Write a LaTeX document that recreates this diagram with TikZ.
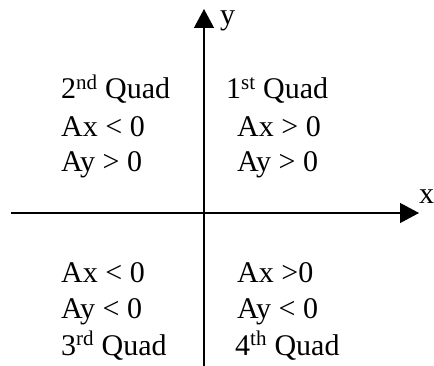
\documentclass[tikz,border=0pt]{standalone}
\usepackage{fontspec}
\setmainfont{Liberation Serif}
\usepackage{tikz}
\usetikzlibrary{arrows.meta}

\begin{document}
\begin{tikzpicture}[x=1pt, y=-1pt,
    axis/.style={line width=1.3pt, -{Triangle[length=19pt,width=20pt]}},
    quad/.style={anchor=base west, inner sep=0pt, font=\fontsize{30}{34}\selectfont},
  ]
  \useasboundingbox (0,0) rectangle (434,366);
  % axes
  \coordinate (xleft) at (11,213);
  \coordinate (xright) at (419,213);
  \coordinate (ybottom) at (204,366);
  \coordinate (ytop) at (204,9);
  \draw[axis] (xleft) -- (xright);
  \draw[axis] (ybottom) -- (ytop);
  \node[quad] (xlabel) at (419,204) {x};
  \node[quad] (ylabel) at (220,25) {y};
  % second quadrant
  \node[quad] (q2name) at (61,99) {2\textsuperscript{nd} Quad};
  \node[quad] (q2ax) at (61,137) {Ax < 0};
  \node[quad] (q2ay) at (61,172) {Ay > 0};
  % first quadrant
  \node[quad] (q1name) at (226,99) {1\textsuperscript{st} Quad};
  \node[quad] (q1ax) at (237,137) {Ax > 0};
  \node[quad] (q1ay) at (237,172) {Ay > 0};
  % third quadrant
  \node[quad] (q3ax) at (61,283) {Ax < 0};
  \node[quad] (q3ay) at (61,319) {Ay < 0};
  \node[quad] (q3name) at (61,355) {3\textsuperscript{rd} Quad};
  % fourth quadrant
  \node[quad] (q4ax) at (237,283) {Ax >0};
  \node[quad] (q4ay) at (237,319) {Ay < 0};
  \node[quad] (q4name) at (235,355) {4\textsuperscript{th} Quad};
\end{tikzpicture}
\end{document}
